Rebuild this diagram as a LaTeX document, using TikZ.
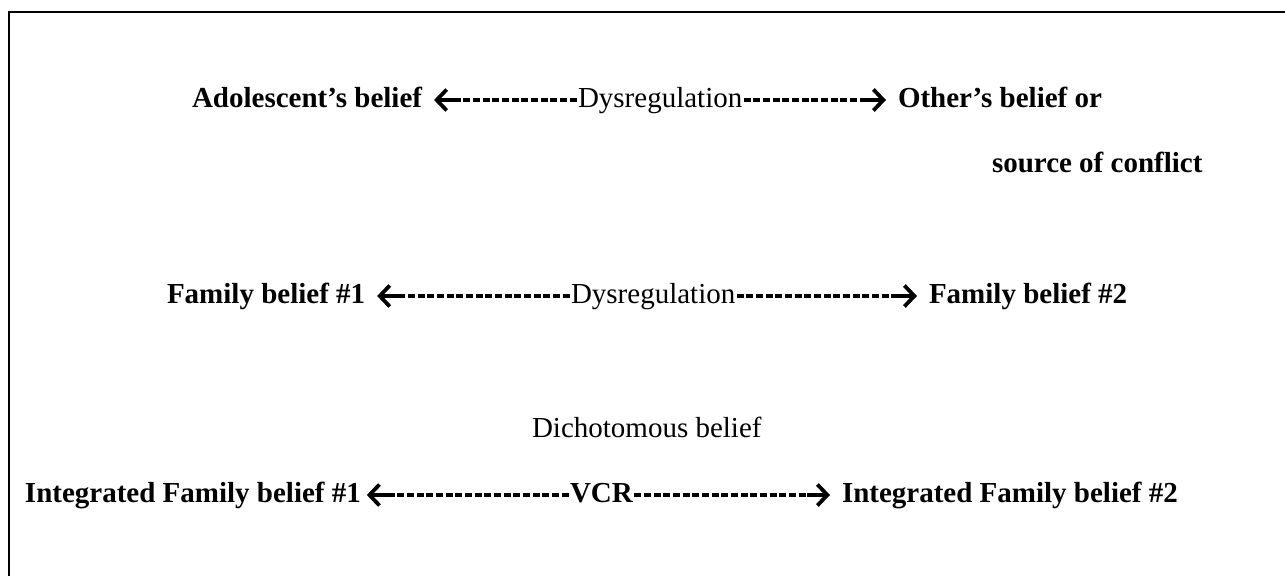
\documentclass[tikz,border=0pt]{standalone}
\usepackage{fontspec}
\setmainfont{Liberation Serif}
\usetikzlibrary{calc,arrows.meta}
\begin{document}
\begin{tikzpicture}[x=0.5pt,y=-0.5pt,
  bold/.style={inner sep=0pt,outer sep=0pt,anchor=base west,font=\fontsize{14.5}{17}\selectfont\bfseries},
  plain/.style={inner sep=0pt,outer sep=0pt,anchor=base west,font=\fontsize{14.5}{17}\selectfont},
  hyph/.style={line width=1.7pt,dash pattern=on 3.5pt off 1.33pt},
  shaft/.style={line width=1.8pt,-{Straight Barb[length=5pt,width=10.5pt,line width=1.9pt]}}]
\useasboundingbox (0,0) rectangle (1285,576);
\draw[line width=1.1pt] (8.7,600) -- (8.7,12.3) -- (1300,12.3);

% row 1
\node[bold]  (l1) at (192,108) {Adolescent’s belief};
\node[plain] (m1) at (578,108) {Dysregulation};
\node[bold]  (r1) at (898,108) {Other’s belief or};
\node[bold]  (s1) at (992,173) {source of conflict};
\coordinate (j1a) at (458,100);
\coordinate (j1b) at (863,100);
\draw[hyph] ($(m1.base west)+(-1.5,-8)$) -- (j1a);
\draw[shaft] (j1a) -- ($(l1.base east)+(12,-8)$);
\draw[hyph] ($(m1.base east)+(1.5,-8)$) -- (j1b);
\draw[shaft] (j1b) -- ($(r1.base west)+(-12,-8)$);

% row 2
\node[bold]  (l2) at (167,304) {Family belief \#1};
\node[plain] (m2) at (571,304) {Dysregulation};
\node[bold]  (r2) at (929,304) {Family belief \#2};
\coordinate (j2a) at (400,296);
\coordinate (j2b) at (894,296);
\draw[hyph] ($(m2.base west)+(-1.5,-8)$) -- (j2a);
\draw[shaft] (j2a) -- ($(l2.base east)+(12,-8)$);
\draw[hyph] ($(m2.base east)+(1.5,-8)$) -- (j2b);
\draw[shaft] (j2b) -- ($(r2.base west)+(-12,-8)$);

% row 3
\node[plain] (d3) at (532,438) {Dichotomous belief};

% row 4
\node[bold]  (l4) at (25,503) {Integrated Family belief \#1};
\node[bold]  (m4) at (570,503) {VCR};
\node[bold]  (r4) at (842,503) {Integrated Family belief \#2};
\coordinate (j4a) at (390,495);
\coordinate (j4b) at (807,495);
\draw[hyph] ($(m4.base west)+(-1.5,-8)$) -- (j4a);
\draw[shaft] (j4a) -- ($(l4.base east)+(6,-8)$);
\draw[hyph] ($(m4.base east)+(1.5,-8)$) -- (j4b);
\draw[shaft] (j4b) -- ($(r4.base west)+(-12,-8)$);
\end{tikzpicture}
\end{document}
